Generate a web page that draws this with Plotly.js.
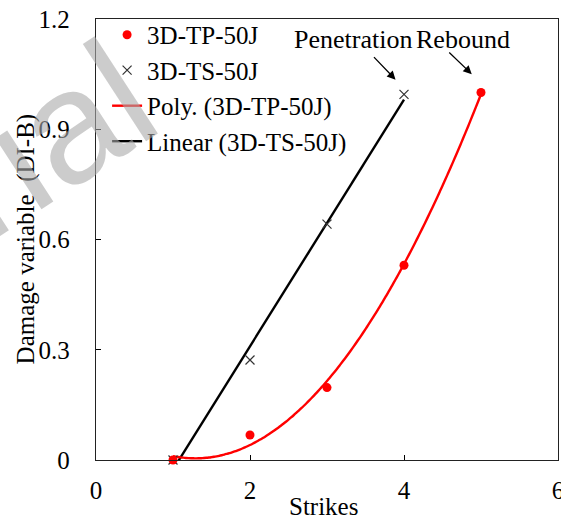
<!DOCTYPE html>
<html>
<head>
<meta charset="utf-8">
<script src="https://cdn.plot.ly/plotly-3.0.1.min.js"></script>
<style>
  html, body { margin: 0; padding: 0; background: #fff; }
  #chart { width: 561px; height: 522px; }
</style>
</head>
<body>
<div id="chart"></div>
<script>
// Impact strikes vs. damage variable for two specimens
const strikesTP = [1, 2, 3, 4, 5];
const damageTP = [0, 0.068, 0.197, 0.53, 1.0];
const strikesTS = [1, 2, 3, 4];
const damageTS = [0, 0.272, 0.642, 0.995];

const nameTP = '3D-TP-50J';
const nameTS = '3D-TS-50J';
const namePoly = 'Poly. (3D-TP-50J)';
const nameLinear = 'Linear (3D-TS-50J)';

const xTicks = [0, 2, 4, 6];
const yTicks = [0, 0.3, 0.6, 0.9, 1.2];

const xTitle = 'Strikes';
const yTitle = 'Damage variable\u00a0 (DI-B)';

// Least-squares fits (same as spreadsheet trendlines)
function linearFit(xs, ys) {
  const n = xs.length;
  const mx = xs.reduce((a, b) => a + b, 0) / n;
  const my = ys.reduce((a, b) => a + b, 0) / n;
  let sxy = 0, sxx = 0;
  for (let i = 0; i < n; i++) { sxy += (xs[i] - mx) * (ys[i] - my); sxx += (xs[i] - mx) ** 2; }
  const b = sxy / sxx;
  return x => my + b * (x - mx);
}
function quadFit(xs, ys) {
  // normal equations for y = c0 + c1 x + c2 x^2
  const S = k => xs.reduce((a, x) => a + x ** k, 0);
  const T = k => xs.reduce((a, x, i) => a + ys[i] * x ** k, 0);
  const A = [[S(0), S(1), S(2)], [S(1), S(2), S(3)], [S(2), S(3), S(4)]];
  const v = [T(0), T(1), T(2)];
  const det = m => m[0][0]*(m[1][1]*m[2][2]-m[1][2]*m[2][1]) - m[0][1]*(m[1][0]*m[2][2]-m[1][2]*m[2][0]) + m[0][2]*(m[1][0]*m[2][1]-m[1][1]*m[2][0]);
  const D = det(A);
  const c = [0, 1, 2].map(j => det(A.map((row, i) => row.map((val, k) => (k === j ? v[i] : val)))) / D);
  return x => c[0] + c[1] * x + c[2] * x * x;
}
function sample(f, x0, x1, n) {
  const xs = [], ys = [];
  for (let i = 0; i <= n; i++) { const x = x0 + (x1 - x0) * i / n; xs.push(x); ys.push(f(x)); }
  return { xs, ys };
}

const polyF = quadFit(strikesTP, damageTP);
const linF = linearFit(strikesTS, damageTS);
const polyCurve = sample(polyF, strikesTP[0], strikesTP[strikesTP.length - 1], 120);
const linCurve = sample(linF, strikesTS[0], strikesTS[strikesTS.length - 1], 2);

const serif = 'Liberation Serif, Times New Roman, serif';
const fs = 25;

const traces = [
  {
    x: linCurve.xs, y: linCurve.ys, name: nameLinear, type: 'scatter', mode: 'lines',
    line: { color: '#000000', width: 2.4 }, legendrank: 4
  },
  {
    x: polyCurve.xs, y: polyCurve.ys, name: namePoly, type: 'scatter', mode: 'lines',
    line: { color: '#ff0000', width: 2.4, shape: 'spline' }, legendrank: 3
  },
  {
    x: strikesTS, y: damageTS, name: nameTS, type: 'scatter', mode: 'markers', cliponaxis: false,
    marker: { symbol: 'x-thin-open', size: 9, color: '#333333', line: { color: '#333333', width: 1.2 } },
    legendrank: 2
  },
  {
    x: strikesTP, y: damageTP, name: nameTP, type: 'scatter', mode: 'markers', cliponaxis: false,
    marker: { symbol: 'circle', size: 9, color: '#ff0000' },
    legendrank: 1
  }
];

const iPen = strikesTS.length - 1;
const iReb = strikesTP.length - 1;

const layout = {
  width: 561, height: 522,
  margin: { l: 96, r: 3, t: 19, b: 62 },
  paper_bgcolor: '#ffffff', plot_bgcolor: '#ffffff',
  font: { family: serif, size: fs, color: '#000000' },
  showlegend: true,
  legend: {
    x: 0.024, y: 1.016, xanchor: 'left', yanchor: 'top',
    bgcolor: 'rgba(0,0,0,0)', borderwidth: 0,
    font: { family: serif, size: fs, color: '#000000' },
    traceorder: 'normal'
  },
  xaxis: {
    range: [0, 6], tickvals: xTicks, ticktext: xTicks.map(String),
    ticks: 'inside', ticklen: 5, tickcolor: '#000', tickwidth: 1,
    showline: true, linecolor: '#222', linewidth: 1.3, mirror: true,
    showgrid: false, zeroline: false, ticklabeloverflow: 'allow',
    tickfont: { family: serif, size: fs }, ticklabelstandoff: 8
  },
  yaxis: {
    range: [0, 1.2], tickvals: yTicks, ticktext: yTicks.map(v => String(v)),
    ticks: 'inside', ticklen: 5, tickcolor: '#000', tickwidth: 1,
    showline: true, linecolor: '#222', linewidth: 1.3, mirror: true,
    showgrid: false, zeroline: false,
    tickfont: { family: serif, size: fs }, ticklabelstandoff: 20
  },
  annotations: [
    {
      text: xTitle, xref: 'paper', yref: 'paper', x: 0.4924, y: -0.105,
      xanchor: 'center', yanchor: 'middle', showarrow: false,
      font: { family: serif, size: fs, color: '#000' }
    },
    {
      text: yTitle, xref: 'paper', yref: 'paper', x: -0.152, y: 0.502,
      xanchor: 'center', yanchor: 'middle', textangle: -90, showarrow: false,
      font: { family: serif, size: fs, color: '#000' }
    },
    {
      text: 'Penetration', xref: 'x', yref: 'y',
      x: strikesTS[iPen] - 0.656, y: damageTS[iPen] + 0.15,
      showarrow: false, font: { family: serif, size: 26, color: '#000' }
    },
    {
      text: 'Rebound', xref: 'x', yref: 'y',
      x: strikesTP[iReb] - 0.23, y: damageTP[iReb] + 0.145,
      showarrow: false, font: { family: serif, size: 26, color: '#000' }
    },
    {
      text: '', xref: 'x', yref: 'y',
      x: strikesTS[iPen] - 0.11, y: damageTS[iPen] + 0.04,
      ax: -23, ay: -24, showarrow: true, arrowhead: 2, arrowsize: 1.3, arrowwidth: 1.3,
      arrowcolor: '#000', standoff: 0
    },
    {
      text: '', xref: 'x', yref: 'y',
      x: strikesTP[iReb] - 0.12, y: damageTP[iReb] + 0.05,
      ax: -24, ay: -23, showarrow: true, arrowhead: 2, arrowsize: 1.3, arrowwidth: 1.3,
      arrowcolor: '#000', standoff: 0
    },
    {
      text: 'Trial', xref: 'paper', yref: 'paper', x: -0.19, y: 0.67,
      xanchor: 'center', yanchor: 'middle',
      textangle: -33, showarrow: false,
      font: { family: 'Liberation Sans, Arial, sans-serif', size: 160, color: 'rgba(170,170,170,0.6)' }
    }
  ]
};

Plotly.newPlot('chart', traces, layout, { displayModeBar: false, staticPlot: true });
</script>
</body>
</html>
